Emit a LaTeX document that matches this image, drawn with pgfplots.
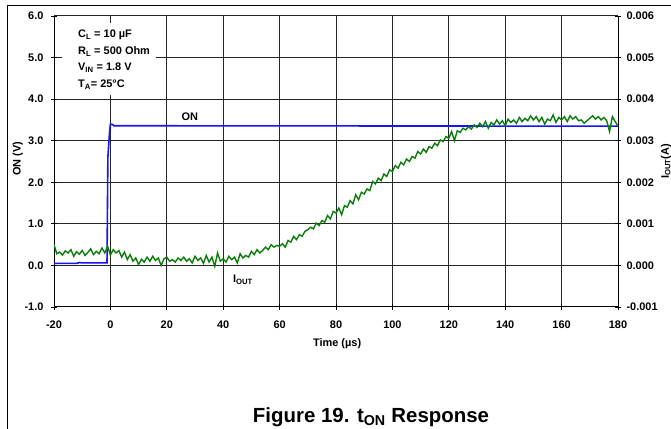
\documentclass[border=0pt]{standalone}
\usepackage{pgfplots}
\usepackage{pgfplotstable}
\pgfplotsset{compat=1.18}
\usepackage{fontspec}
\setmainfont{Liberation Sans}

\definecolor{onblue}{RGB}{20,20,255}
\definecolor{igreen}{RGB}{10,125,10}

% I_OUT in mA, every 1 us
\pgfplotstableread{
t i
-20 0.50
-19 0.28
-18 0.32
-17 0.25
-16 0.35
-15 0.30
-14 0.38
-13 0.22
-12 0.33
-11 0.27
-10 0.36
-9 0.24
-8 0.31
-7 0.40
-6 0.26
-5 0.34
-4 0.28
-3 0.42
-2 0.30
-1 0.46
0 0.25
1 0.38
2 0.30
3 0.36
4 0.20
5 0.32
6 0.14
7 0.26
8 0.10
9 0.18
10 0.02
11 0.15
12 0.08
13 0.20
14 0.10
15 0.22
16 0.12
17 0.18
18 0.00
19 0.16
20 0.20
21 0.10
22 0.14
23 0.08
24 0.18
25 0.12
26 0.20
27 0.10
28 0.16
29 0.06
30 0.22
31 0.12
32 0.18
33 0.05
34 0.24
35 0.08
36 0.20
37 -0.02
38 0.30
39 0.10
40 0.16
41 0.08
42 0.22
43 0.14
44 0.20
45 0.06
46 0.28
47 0.18
48 0.24
49 0.20
50 0.34
51 0.26
52 0.38
53 0.30
54 0.36
55 0.44
56 0.38
57 0.50
58 0.44
59 0.48
60 0.46
61 0.52
62 0.44
63 0.60
64 0.56
65 0.70
66 0.62
67 0.74
68 0.70
69 0.82
70 0.86
71 0.92
72 0.88
73 1.02
74 0.96
75 1.08
76 1.04
77 1.20
78 1.12
79 1.30
80 1.26
81 1.38
82 1.22
83 1.44
84 1.40
85 1.56
86 1.48
87 1.70
88 1.58
89 1.76
90 1.72
91 1.84
92 1.80
93 2.02
94 1.96
95 2.10
96 2.04
97 2.20
98 2.14
99 2.30
100 2.26
101 2.40
102 2.34
103 2.48
104 2.42
105 2.56
106 2.50
107 2.62
108 2.58
109 2.74
110 2.68
111 2.80
112 2.72
113 2.86
114 2.82
115 2.94
116 2.88
117 3.02
118 2.98
119 3.10
120 3.06
121 3.22
122 3.00
123 3.24
124 3.20
125 3.30
126 3.26
127 3.34
128 3.28
129 3.38
130 3.32
131 3.42
132 3.34
133 3.46
134 3.30
135 3.44
136 3.38
137 3.50
138 3.40
139 3.48
140 3.36
141 3.52
142 3.44
143 3.50
144 3.42
145 3.56
146 3.46
147 3.54
148 3.48
149 3.60
150 3.50
151 3.58
152 3.46
153 3.56
154 3.40
155 3.52
156 3.48
157 3.62
158 3.44
159 3.56
160 3.50
161 3.58
162 3.46
163 3.60
164 3.52
165 3.58
166 3.48
167 3.50
168 3.42
169 3.48
170 3.54
171 3.60
172 3.52
173 3.58
174 3.50
175 3.56
176 3.48
177 3.22
178 3.58
179 3.46
180 3.36
}\ioutdata

\newcommand\smallbf{\bfseries\fontsize{11}{13}\selectfont}

\begin{document}
\begin{tikzpicture}
\useasboundingbox (0,0) rectangle (671bp,429bp);
\draw[line width=1bp] (7bp,0) -- (7bp,423bp) -- (671bp,423bp);

\pgfplotsset{
  chartbase/.style={
    scale only axis, width=564bp, height=291bp,
    at={(54bp,122bp)}, anchor=south west,
    xmin=-20, xmax=180,
    tick align=center, major tick length=6bp,
    tick style={black, line width=0.8bp},
    /pgf/number format/assume math mode=true,
    tick label style={font=\smallbf},
    label style={font=\smallbf},
  }
}

\begin{axis}[
  chartbase,
  ymin=-1, ymax=6,
  xtick={-20,0,...,180}, ytick={-1,0,...,6},
  axis y line*=left,
  axis x line*=bottom,
  axis line style={black, line width=1bp},
  grid=major, grid style={black!85, line width=1bp},
  xticklabel shift=7bp, yticklabel shift=4bp,
  yticklabel style={/pgf/number format/.cd, fixed, fixed zerofill, precision=1},
  xlabel={Time (µs)},
  xlabel style={at={(rel axis cs:0.502,-0.127)}, anchor=center},
  ylabel={ON (V)},
  ylabel style={at={(rel axis cs:-0.064,0.51)}, anchor=center},
]
\fill[white] (axis cs:-17.2,4.10) rectangle (axis cs:16.2,5.84);
\addplot[onblue, line width=1.6bp] coordinates {
  (-20,0.05) (-12,0.05) (-11,0.07) (-10,0.06) (-1.2,0.06)
  (-0.9,2.60) (-0.3,3.20) (0,3.40) (0.8,3.39) (1.2,3.36) (180,3.35)
};
\node[anchor=base west, font=\smallbf] at (axis cs:-12.7,5.48) {C\textsubscript{L} = 10 µF};
\node[anchor=base west, font=\smallbf] at (axis cs:-12.7,5.07) {R\textsubscript{L} = 500 Ohm};
\node[anchor=base west, font=\smallbf] at (axis cs:-12.7,4.68) {V\textsubscript{IN} = 1.8 V};
\node[anchor=base west, font=\smallbf] at (axis cs:-12.7,4.28) {T\textsubscript{A}= 25°C};
\node[font=\smallbf] at (axis cs:28.2,3.57) {ON};
\node[font=\smallbf] at (axis cs:47,-0.35) {I\textsubscript{OUT}};
\end{axis}

\begin{axis}[
  chartbase,
  ymin=-0.001, ymax=0.006,
  axis x line=none,
  axis y line*=right,
  axis line style={black, line width=1bp},
  ytick={-0.001,0,0.001,0.002,0.003,0.004,0.005,0.006},
  scaled y ticks=false,
  yticklabel shift=2bp,
  yticklabel style={/pgf/number format/.cd, fixed, fixed zerofill, precision=3},
  ylabel={I\textsubscript{OUT}(A)},
  ylabel style={at={(rel axis cs:1.085,0.5)}, anchor=center},
]
\addplot[igreen, line width=1.4bp] table[x=t, y expr=\thisrow{i}/1000] {\ioutdata};
\end{axis}

\node[font=\bfseries\fontsize{20.5}{23}\selectfont, anchor=base] at (371bp,6.7bp) {Figure 19. t\textsubscript{ON} Response};
\end{tikzpicture}
\end{document}
